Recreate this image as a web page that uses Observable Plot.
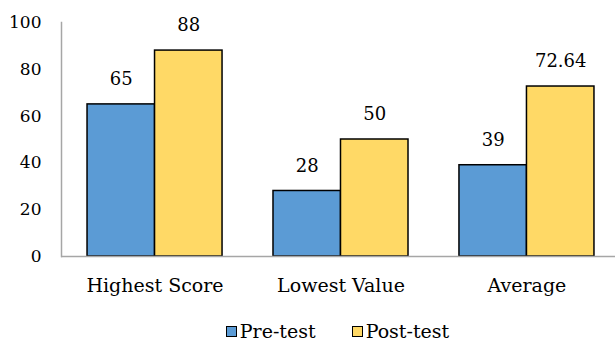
<!DOCTYPE html>
<html>
<head>
<meta charset="utf-8">
<script src="https://cdn.jsdelivr.net/npm/d3@7"></script>
<script src="https://cdn.jsdelivr.net/npm/@observablehq/plot@0.6"></script>
<style>
  html, body { margin: 0; padding: 0; background: #fff; overflow: hidden; width: 615px; height: 346px; }
  #chart { width: 615px; overflow: hidden; }
  #chart svg { display: block; max-width: none !important; height: 310px !important; }
  .legend { font-family: "DejaVu Serif", serif; font-size: 19px; color: #000; display: flex; justify-content: center; align-items: center; gap: 36px; height: 42px; width: 555px; padding-left: 60px; }
  .legend span.item { display: flex; align-items: center; gap: 3px; }
  .legend span.sw { width: 9px; height: 9px; border: 1.5px solid #000; display: inline-block; }
</style>
</head>
<body>
<div id="chart"></div>
<div class="legend">
  <span class="item"><span class="sw" style="background:#5B9BD5"></span>Pre-test</span>
  <span class="item"><span class="sw" style="background:#FFD966"></span>Post-test</span>
</div>
<script>
const categories = ["Highest Score", "Lowest Value", "Average"];
const preTest = [65, 28, 39];
const postTest = [88, 50, 72.64];
const yTicks = [0, 20, 40, 60, 80, 100];

const pre = categories.map((c, i) => ({category: c, value: preTest[i]}));
const post = categories.map((c, i) => ({category: c, value: postTest[i]}));

const font = "DejaVu Serif";
const half = 67.5 / 2;

const chart = Plot.plot({
  width: 620,
  height: 310,
  marginLeft: 61,
  marginRight: 0,
  marginTop: 22,
  marginBottom: 54,
  style: {fontFamily: font, fontSize: "18px", color: "#000", background: "#fff", overflow: "visible", maxWidth: "none"},
  x: {domain: categories, paddingInner: 0.274, paddingOuter: 0.14, round: false, label: null},
  y: {domain: [0, 100], label: null},
  marks: [
    Plot.barY(pre, {x: "category", y: "value", fill: "#5B9BD5", stroke: "#000", strokeWidth: 1.5, insetRight: 67.5}),
    Plot.barY(post, {x: "category", y: "value", fill: "#FFD966", stroke: "#000", strokeWidth: 1.5, insetLeft: 67.5}),
    Plot.text(pre, {x: "category", y: "value", text: d => String(d.value), dx: -half, dy: -25, fontSize: 18, fill: "#000"}),
    Plot.text(post, {x: "category", y: "value", text: d => String(d.value), dx: half, dy: -25, fontSize: 18, fill: "#000"}),
    Plot.frame({anchor: "left", stroke: "#a6a6a6", strokeWidth: 1.5}),
    Plot.ruleY([0], {stroke: "#a6a6a6", strokeWidth: 1.5}),
    Plot.axisY({ticks: yTicks, tickSize: 0, tickPadding: 20, fontSize: 17, label: null}),
    Plot.axisX({tickSize: 0, tickPadding: 22, fontSize: 19, label: null})
  ]
});
document.getElementById("chart").appendChild(chart);
</script>
</body>
</html>
